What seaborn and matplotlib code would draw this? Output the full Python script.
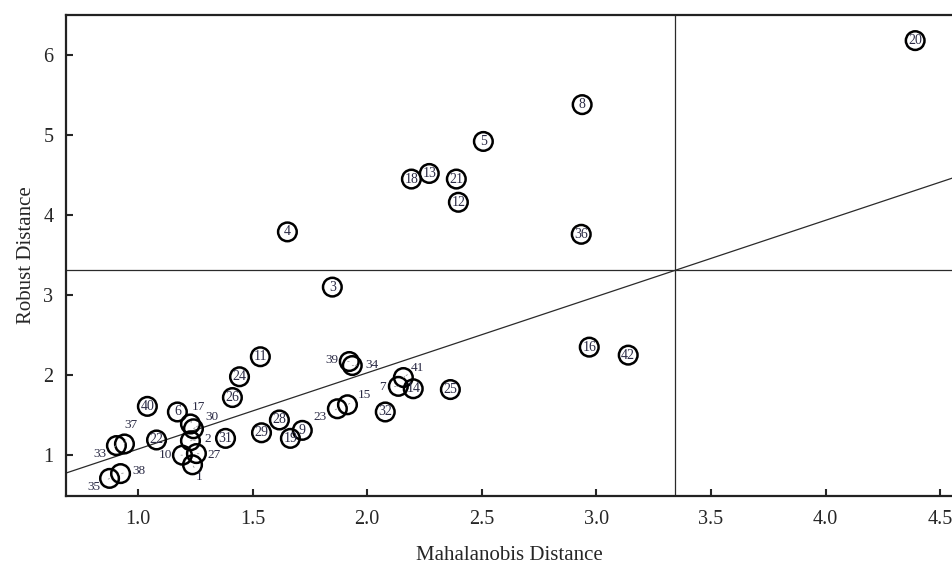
import pandas as pd
import matplotlib.pyplot as plt
import seaborn as sns

# case numbers and the two distances
case_id = list(range(1, 43))
mahalanobis = [1.238, 1.229, 1.848, 1.652, 2.507, 1.172, 2.136, 2.938, 1.717, 1.194,
               1.534, 2.398, 2.271, 2.201, 1.914, 2.969, 1.229, 2.193, 1.665, 4.391,
               2.389, 1.081, 1.870, 1.443, 2.363, 1.412, 1.255, 1.617, 1.539, 1.242,
               1.382, 2.079, 0.906, 1.935, 0.876, 2.934, 0.941, 0.924, 1.922, 1.041,
               2.158, 3.139]
robust = [0.88, 1.18, 3.10, 3.79, 4.92, 1.54, 1.86, 5.38, 1.31, 1.00,
          2.23, 4.16, 4.52, 1.83, 1.63, 2.35, 1.39, 4.45, 1.21, 6.18,
          4.45, 1.19, 1.58, 1.98, 1.82, 1.72, 1.02, 1.44, 1.28, 1.33,
          1.21, 1.54, 1.12, 2.12, 0.71, 3.76, 1.14, 0.77, 2.17, 1.61,
          1.97, 2.25]

# cut-off lines and the fitted line
cutoff_x = 3.344
cutoff_y = 3.31
fit_slope = 0.953
fit_intercept = 0.123

df = pd.DataFrame({"case": case_id, "MD": mahalanobis, "RD": robust})

# labels that sit outside their circle (offset in pixels)
label_offsets = {17: (8, 17), 30: (19, 12), 2: (17, 2), 27: (18, -1), 10: (-17, 0),
                 1: (7, -12), 37: (6, 19), 33: (-17, -8), 38: (18, 3), 35: (-16, -9),
                 39: (-17, 2), 34: (20, 1), 15: (17, 10), 23: (-17, -8), 7: (-16, -1),
                 41: (14, 10)}

sns.set_style("white")
plt.rcParams['font.family'] = ['Liberation Serif', 'DejaVu Serif']

fig = plt.figure(figsize=(9.53, 5.63), dpi=100)
ax = fig.add_axes([66 / 953, 1 - 496 / 563, 1 - 66 / 953, (496 - 15) / 563])

# reference lines
ax.axvline(cutoff_x, color="#2a2a2a", lw=0.9, zorder=1)
ax.axhline(cutoff_y, color="#2a2a2a", lw=0.9, zorder=1)
ax.axline((0, fit_intercept), slope=fit_slope, color="#2a2a2a", lw=0.9, zorder=1)

sns.scatterplot(data=df, x="MD", y="RD", s=180, facecolor="none", edgecolor="black",
                linewidth=1.8, ax=ax, zorder=3)

for c, x, y in zip(df["case"], df["MD"], df["RD"]):
    if c in label_offsets:
        ax.annotate(str(c), (x, y), xytext=label_offsets[c], textcoords="offset pixels",
                    ha="center", va="center", fontsize=9.5, color="#2b2b45",
                    arrowprops=dict(arrowstyle="-", color="#999999", lw=0.6,
                                    ls=(0, (2, 2)), shrinkA=4, shrinkB=0))
    else:
        ax.text(x, y, str(c), ha="center", va="center", fontsize=10, color="#2b2b45", zorder=4)

ax.set_xlim(0.686, 4.556)
ax.set_ylim(0.49, 6.5)
ax.set_xticks([1.0, 1.5, 2.0, 2.5, 3.0, 3.5, 4.0, 4.5])
ax.set_xticklabels(["1.0", "1.5", "2.0", "2.5", "3.0", "3.5", "4.0", "4.5"])
ax.set_yticks([1, 2, 3, 4, 5, 6])

ax.set_xlabel("Mahalanobis Distance", fontsize=15, labelpad=12)
ax.set_ylabel("Robust Distance", fontsize=15, labelpad=5)

ax.tick_params(axis="x", direction="in", length=5, width=1.5, pad=10, labelsize=14.5,
               bottom=True)
ax.tick_params(axis="y", direction="in", length=5, width=1.5, pad=9, labelsize=14.5,
               left=True)
for side in ["left", "bottom", "top"]:
    ax.spines[side].set_linewidth(1.6)
    ax.spines[side].set_color("#222222")
ax.spines["right"].set_visible(False)

plt.savefig("out.png", dpi=100)
